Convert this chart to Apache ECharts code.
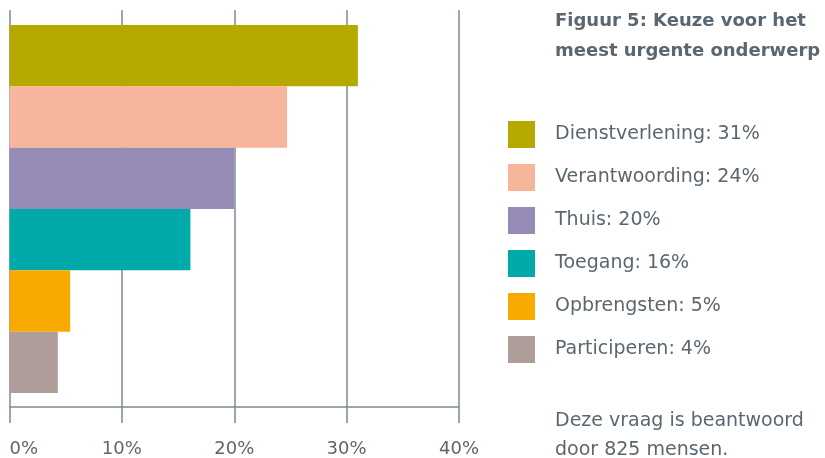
<!DOCTYPE html>
<html>
<head>
<meta charset="utf-8">
<script src="https://cdn.jsdelivr.net/npm/echarts@6/dist/echarts.min.js"></script>
<style>
  html, body { margin: 0; padding: 0; background: #fff; }
  #chart { width: 825px; height: 458px; }
</style>
</head>
<body>
<div id="chart"></div>
<script>
// categorieen en waarden
const categories = ["Dienstverlening", "Verantwoording", "Thuis", "Toegang", "Opbrengsten", "Participeren"];
const values = [31, 24.7, 20, 16.1, 5.4, 4.3];
const legendLabels = ["31%", "24%", "20%", "16%", "5%", "4%"];
const colors = ["#b5a900", "#f7b59c", "#958bb4", "#00aaa8", "#f8aa00", "#ae9d98"];
const xTicks = [0, 10, 20, 30, 40];

const textColor = "#5b6770";
const lineColor = "#7f8a93";
const font = "DejaVu Sans";

var myChart = echarts.init(document.getElementById("chart"));

// elke categorie een eigen serie, zodat de legenda werkt
const series = categories.map(function (name, i) {
  return {
    name: name,
    type: "bar",
    stack: "all",
    xAxisIndex: 1,
    yAxisIndex: 1,
    barCategoryGap: "0%",
    itemStyle: { color: colors[i] },
    data: categories.map(function (c, j) { return j === i ? values[i] : "-"; })
  };
});

myChart.setOption({
  animation: false,
  title: [
    {
      text: "Figuur 5: Keuze voor het\nmeest urgente onderwerp",
      left: 555, top: 6, padding: 0,
      textStyle: { color: textColor, fontFamily: font, fontSize: 18, fontWeight: "bold", lineHeight: 30 }
    },
    {
      text: "Deze vraag is beantwoord\ndoor 825 mensen.",
      left: 555, top: 407, padding: 0,
      textStyle: { color: textColor, fontFamily: font, fontSize: 19, fontWeight: "normal", lineHeight: 29 }
    }
  ],
  legend: {
    orient: "vertical",
    left: 508, top: 121, padding: 0,
    itemWidth: 27, itemHeight: 27, itemGap: 16,
    icon: "rect",
    selectedMode: false,
    formatter: function (name) {
      return name + ": " + legendLabels[categories.indexOf(name)];
    },
    textStyle: { color: textColor, fontFamily: font, fontSize: 19, padding: [0, 0, 0, 15] },
    data: categories
  },
  grid: [
    { left: 9.5, right: 366, top: 10, bottom: 49 },
    { left: 9.5, right: 366, top: 25, bottom: 65 }
  ],
  xAxis: [
    {
      gridIndex: 0, type: "value", min: xTicks[0], max: xTicks[xTicks.length - 1], interval: 10,
      axisLine: { show: true, lineStyle: { color: lineColor, width: 1.5 } },
      axisTick: { show: true, length: 16, lineStyle: { color: lineColor, width: 1.5 } },
      splitLine: { show: true, lineStyle: { color: lineColor, width: 1.5 } },
      axisLabel: {
        formatter: "{value}%", margin: 33, color: textColor, fontFamily: font, fontSize: 18,
        alignMinLabel: "left"
      }
    },
    { gridIndex: 1, type: "value", min: 0, max: 40, show: false }
  ],
  yAxis: [
    { gridIndex: 0, type: "value", show: false },
    { gridIndex: 1, type: "category", data: categories, inverse: true, show: false }
  ],
  series: series
});
</script>
</body>
</html>
